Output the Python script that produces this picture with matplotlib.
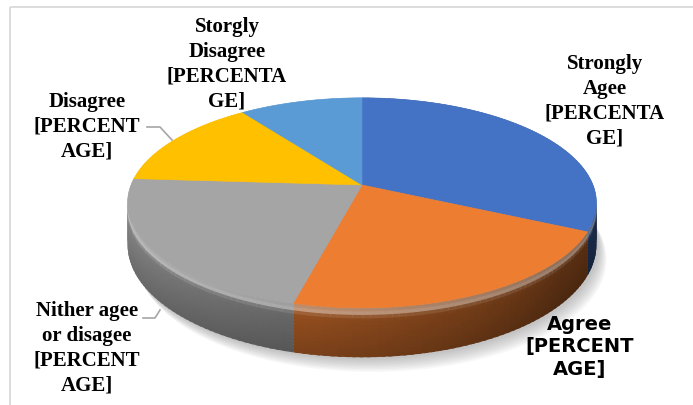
import numpy as np
import matplotlib
matplotlib.use("Agg")
import matplotlib.pyplot as plt
from matplotlib.collections import PolyCollection
from matplotlib.patches import Polygon, Rectangle
from matplotlib.colors import to_rgb

# survey answers, clockwise from 12 o'clock
labels = ["Strongly\nAgee\n[PERCENTA\nGE]",
          "Agree\n[PERCENT\nAGE]",
          "Nither agee\nor disagee\n[PERCENT\nAGE]",
          "Disagree\n[PERCENT\nAGE]",
          "Storgly\nDisagree\n[PERCENTA\nGE]"]
shares = [32, 22, 22, 14, 10]
colors = ["#4472C4", "#ED7D31", "#A5A5A5", "#FFC000", "#5B9BD5"]

# pie geometry in pixel units (axes maps 1:1 to pixels)
CX, CY = 362, 186
RX, RY = 231, 102
TILT = 0.17
DEPTH = 41


def rim(theta, drop=0.0):
    t = np.radians(theta)
    u, v = np.sin(t), np.cos(t)
    w = 1 + TILT * v
    return CX + RX * u / w, CY + (-RY * v + drop) / w


fig = plt.figure(figsize=(6.93, 4.06), dpi=100)
ax = fig.add_axes([0, 0, 1, 1])
ax.set_xlim(0, 693)
ax.set_ylim(406, 0)
ax.axis("off")

ax.add_patch(Rectangle((10, 8), 700, 420, fill=False, ec="#D9D9D9", lw=1.3))

bounds = np.concatenate([[0], np.cumsum(shares)]) / sum(shares) * 360

# soft shadow under the pie
full = np.linspace(0, 360, 361)
for i in range(10):
    bx, by = rim(full, DEPTH)
    ax.add_patch(Polygon(np.column_stack([bx + 2 + i * 0.9, by + 2 + i * 1.4]),
                         closed=True, fc="#7a7a7a", ec="none", alpha=0.05, zorder=1))

# side wall, split in overlapping strips so it can be shaded without seams
shade_at = ([90, 130, 190, 270, 300], [0.36, 0.40, 0.64, 0.88, 0.95])
NB = 14
STEP = 1.5
polys, cols, keys = [], [], []
for color, a0, a1 in zip(colors, bounds[:-1], bounds[1:]):
    base = np.array(to_rgb(color))
    ts = np.append(np.arange(a0, a1, STEP), a1)
    for t0, t1 in zip(ts[:-1], ts[1:]):
        tm = (t0 + t1) / 2
        shade = np.interp(tm, *shade_at)
        te = min(t1 + 0.8, a1)
        for j in range(NB):
            s0 = j / NB
            s1 = min((j + 1.6) / NB, 1.0)
            p = [rim(t0, DEPTH * s0), rim(te, DEPTH * s0),
                 rim(te, DEPTH * s1), rim(t0, DEPTH * s1)]
            sm = (j + 0.5) / NB
            c = base * shade * (1 - 0.2 * sm)
            glow = 0.55 * np.exp(-((sm - 0.08) / 0.08) ** 2)
            c = np.clip(c + (1 - c) * glow * (0.6 + 0.4 * shade), 0, 1)
            polys.append(p)
            cols.append(c)
            keys.append((np.cos(np.radians(tm)), -j))
order = sorted(range(len(polys)), key=lambda i: keys[i], reverse=True)
ax.add_collection(PolyCollection([polys[i] for i in order],
                                 facecolors=[cols[i] for i in order],
                                 edgecolors="none", linewidths=0, zorder=2))

# top face
for color, a0, a1 in zip(colors, bounds[:-1], bounds[1:]):
    ts = np.linspace(a0, a1, 200)
    xs, ys = rim(ts)
    pts = np.column_stack([np.r_[CX, xs], np.r_[CY, ys]])
    ax.add_patch(Polygon(pts, closed=True, fc=color, ec=color, lw=0.4, zorder=3))

# labels
serif = dict(family="Liberation Serif", weight="bold", fontsize=15, linespacing=1.32,
             ha="center", va="center", multialignment="center", zorder=5)
ax.text(605, 101, labels[0], **serif)
ax.text(580, 347, labels[1], family="DejaVu Sans", weight="bold", fontsize=14,
        linespacing=1.22, ha="center", va="center", multialignment="center", zorder=5)
ax.text(87, 348, labels[2], **serif)
ax.text(87, 127, labels[3], **serif)
ax.text(227, 64, labels[4], **serif)

# leader lines
ax.plot([147, 160, 172], [128, 128, 141], color="#A6A6A6", lw=1.2, zorder=4)
ax.plot([143, 155, 160], [319, 319, 311], color="#A6A6A6", lw=1.2, zorder=4)

fig.savefig("out.png", dpi=100)
